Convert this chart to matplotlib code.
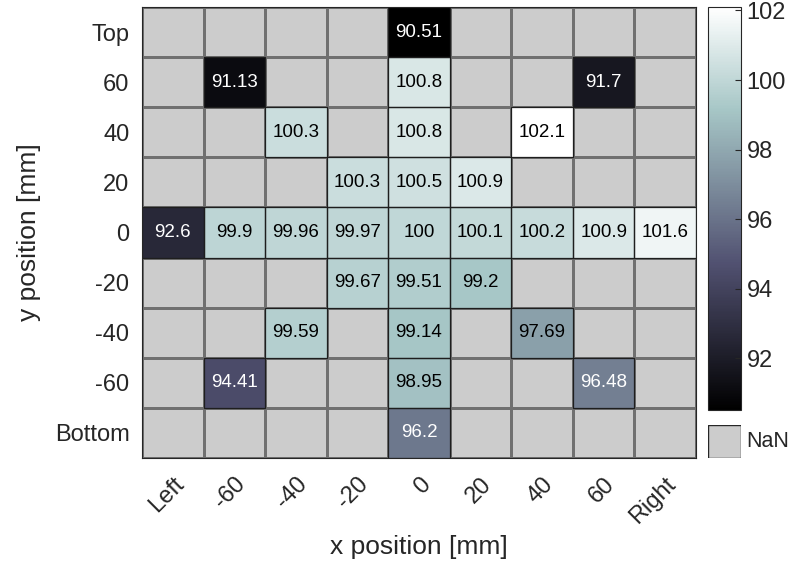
#!/usr/bin/env python3
"""Heatmap of relative values over an x/y position grid, MATLAB-style."""

import numpy as np
import matplotlib
matplotlib.use("Agg")
import matplotlib.pyplot as plt
from matplotlib.colors import Normalize, ListedColormap
from matplotlib.patches import Rectangle
from matplotlib.transforms import ScaledTranslation

plt.rcParams["font.family"] = ["Liberation Sans", "DejaVu Sans"]

x_labels = ["Left", "-60", "-40", "-20", "0", "20", "40", "60", "Right"]
y_labels = ["Top", "60", "40", "20", "0", "-20", "-40", "-60", "Bottom"]

nan = np.nan
row_top = [nan, nan, nan, nan, 90.51, nan, nan, nan, nan]
row_60 = [nan, 91.13, nan, nan, 100.8, nan, nan, 91.7, nan]
row_40 = [nan, nan, 100.3, nan, 100.8, nan, 102.1, nan, nan]
row_20 = [nan, nan, nan, 100.3, 100.5, 100.9, nan, nan, nan]
row_0 = [92.6, 99.9, 99.96, 99.97, 100, 100.1, 100.2, 100.9, 101.6]
row_m20 = [nan, nan, nan, 99.67, 99.51, 99.2, nan, nan, nan]
row_m40 = [nan, nan, 99.59, nan, 99.14, nan, 97.69, nan, nan]
row_m60 = [nan, 94.41, nan, nan, 98.95, nan, nan, 96.48, nan]
row_bottom = [nan, nan, nan, nan, 96.2, nan, nan, nan, nan]

values = np.array([row_top, row_60, row_40, row_20, row_0,
                   row_m20, row_m40, row_m60, row_bottom])

cmap = plt.get_cmap("bone")
vmin, vmax = np.nanmin(values), np.nanmax(values)
norm = Normalize(vmin=vmin, vmax=vmax)
nan_grey = "#cccccc"

W, H = 799, 573
fig = plt.figure(figsize=(W / 100, H / 100), dpi=100)

# main heatmap axes
ax = fig.add_axes([142 / W, 1 - 458 / H, (696 - 142) / W, (458 - 7) / H])
nrows, ncols = values.shape
edges_x = np.arange(ncols + 1)
edges_y = np.arange(nrows + 1)
ax.pcolormesh(edges_x, edges_y, np.zeros_like(values),
              cmap=ListedColormap([nan_grey]),
              edgecolors="#707070", linewidth=0.8)
ax.pcolormesh(edges_x, edges_y, np.ma.masked_invalid(values),
              cmap=cmap, norm=norm, linewidth=0)
ax.set_xlim(0, ncols)
ax.set_ylim(nrows, 0)

for i in range(nrows):
    for j in range(ncols):
        v = values[i, j]
        if np.isnan(v):
            continue
        ax.add_patch(Rectangle((j, i), 1, 1, fill=False,
                               edgecolor="#1e1e1e", linewidth=0.9))
        color = "white" if norm(v) < 0.55 else "black"
        ax.text(j + 0.5, i + 0.5, f"{v:g}", ha="center", va="center",
                fontsize=13.5, color=color)

ax.set_xticks(np.arange(ncols) + 0.5)
ax.set_xticklabels(x_labels, rotation=45, ha="right", va="top",
                   rotation_mode="anchor")
shift = ScaledTranslation(12 / 100, 0, fig.dpi_scale_trans)
for lab in ax.get_xticklabels():
    lab.set_transform(lab.get_transform() + shift)
ax.set_yticks(np.arange(nrows) + 0.5)
ax.set_yticklabels(y_labels)
ax.tick_params(length=0, labelsize=17, colors="#262626")
ax.tick_params(axis="y", pad=9)
ax.tick_params(axis="x", pad=11)
for spine in ax.spines.values():
    spine.set_color("#262626")
ax.set_xlabel("x position [mm]", fontsize=19, labelpad=5, color="#262626")
ax.set_ylabel("y position [mm]", fontsize=19, labelpad=10, color="#262626")

# colorbar
cax = fig.add_axes([708 / W, 1 - 410 / H, (741 - 708) / W, (410 - 7) / H])
sm = plt.cm.ScalarMappable(norm=norm, cmap=cmap)
cb = fig.colorbar(sm, cax=cax, ticks=[92, 94, 96, 98, 100, 102])
cb.outline.set_edgecolor("#262626")
cax.tick_params(labelsize=17, direction="in", length=4, color="#262626",
                labelcolor="#262626", pad=4)

# NaN legend box
nax = fig.add_axes([708 / W, 1 - 458 / H, (741 - 708) / W, (458 - 425) / H])
nax.add_patch(Rectangle((0, 0), 1, 1, facecolor=nan_grey,
                        edgecolor="#262626", linewidth=1.0))
nax.set_xlim(0, 1)
nax.set_ylim(0, 1)
nax.axis("off")
fig.text(746 / W, 1 - 441.5 / H, "NaN", fontsize=15.5, va="center",
         ha="left", color="#262626")

fig.savefig("out.png", dpi=100)
